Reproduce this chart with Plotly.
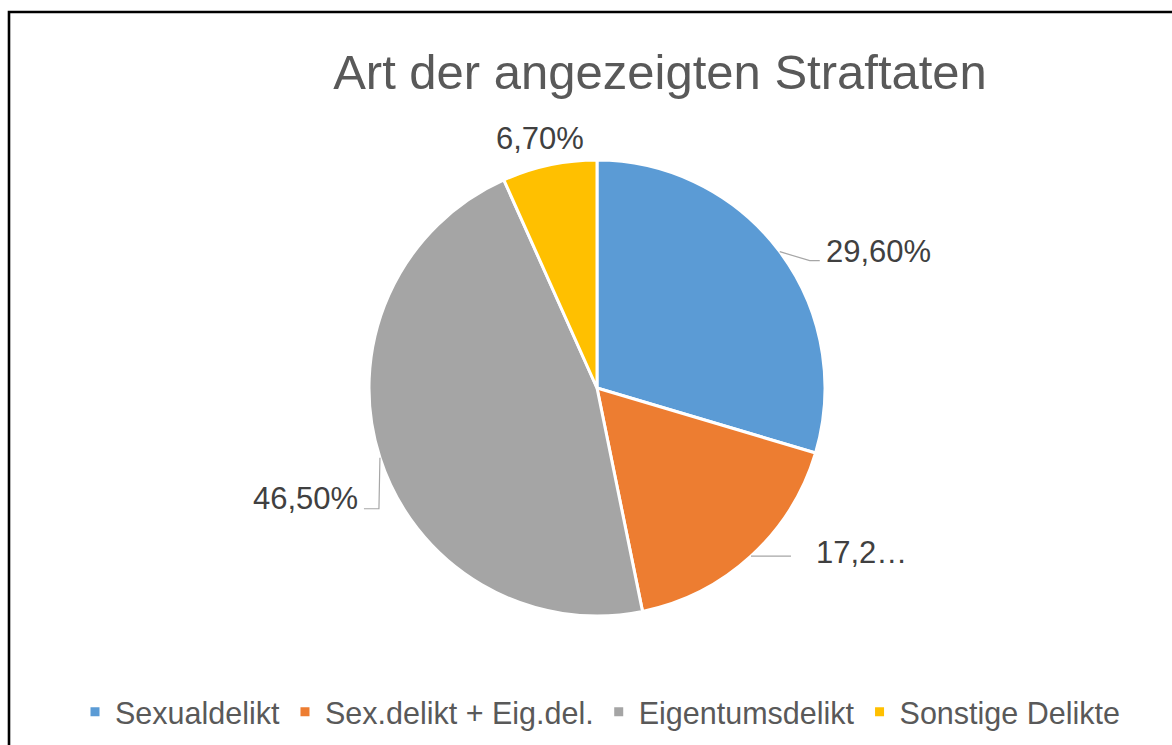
import math
import plotly.graph_objects as go

# ---- data ----
categories = ["Sexualdelikt", "Sex.delikt + Eig.del.", "Eigentumsdelikt", "Sonstige Delikte"]
values = [29.6, 17.2, 46.5, 6.7]
label_texts = ["29,60%", "17,2…", "46,50%", "6,70%"]
colors = ["#5B9BD5", "#ED7D31", "#A5A5A5", "#FFC000"]
title_text = "Art der angezeigten Straftaten"

# ---- layout constants (pixels) ----
W, H = 1172, 745
CX, CY, R = 597, 388, 228
FONT = "Liberation Sans, Arial, sans-serif"

def px(x):
    return x / W

def py(y):
    return 1 - y / H

fig = go.Figure(go.Pie(
    labels=categories,
    values=values,
    sort=False,
    direction="clockwise",
    rotation=0,
    marker=dict(colors=colors, line=dict(color="white", width=3)),
    textinfo="none",
    hoverinfo="label+percent",
    domain=dict(x=[px(CX - R), px(CX + R)], y=[py(CY + R), py(CY - R)]),
))

# label placement: offsets from each slice's edge midpoint (layout only)
# (text dx, text dy, xanchor, list of leader-line elbow offsets)
placements = [
    (44, 0, "left", [(30, 9), (40, 9)]),
    (63, -4, "left", [(40, 0)]),
    (-20, 41, "right", [(-1, 51), (-16, 51)]),
    (-9, -27, "center", []),
]

total = sum(values)
cum = 0.0
annotations = []
shapes = []
for v, txt, (tdx, tdy, xa, elbows) in zip(values, label_texts, placements):
    theta = 2 * math.pi * (cum + v / 2) / total
    cum += v
    ex = CX + R * math.sin(theta)
    ey = CY - R * math.cos(theta)
    annotations.append(dict(
        x=px(ex + tdx), y=py(ey + tdy), xref="paper", yref="paper",
        text=txt, showarrow=False, xanchor=xa, yanchor="middle",
        font=dict(family=FONT, size=31, color="#404040"),
    ))
    if elbows:
        path = f"M {px(ex)},{py(ey)}"
        for dx, dy in elbows:
            path += f" L {px(ex + dx)},{py(ey + dy)}"
        shapes.append(dict(type="path", path=path, xref="paper", yref="paper",
                           line=dict(color="#A6A6A6", width=1.2)))

# outer chart border
shapes.append(dict(type="rect", xref="paper", yref="paper",
                   x0=px(9), y0=-0.02, x1=1.02, y1=py(12),
                   line=dict(color="black", width=2.6), fillcolor="rgba(0,0,0,0)"))

fig.update_layout(
    width=W, height=H,
    margin=dict(l=0, r=0, t=0, b=0),
    paper_bgcolor="white",
    plot_bgcolor="white",
    title=dict(text=title_text, x=px(660), xanchor="center", y=py(72), yanchor="middle",
               font=dict(family=FONT, size=49, color="#595959")),
    showlegend=True,
    legend=dict(orientation="h", x=px(600), xanchor="center", y=py(712), yanchor="middle",
                font=dict(family=FONT, size=30.5, color="#595959"),
                itemclick=False, itemdoubleclick=False, tracegroupgap=0),
    annotations=annotations,
    shapes=shapes,
)

fig.write_html("out.html",
               config={"displayModeBar": False},
               post_script="document.body.style.margin='0';document.body.style.overflow='hidden';")
